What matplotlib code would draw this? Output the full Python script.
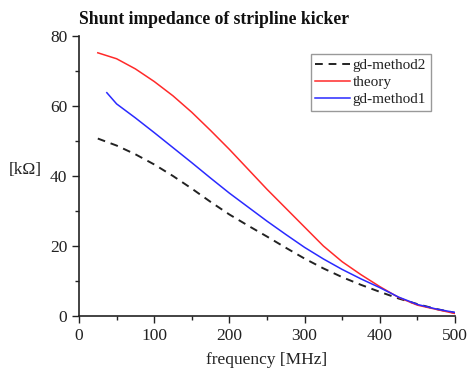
import matplotlib
matplotlib.use("Agg")
import matplotlib.pyplot as plt
from matplotlib.ticker import MultipleLocator

freq = [25, 50, 75, 100, 125, 150, 175, 200, 225, 250, 275, 300,
        325, 350, 375, 400, 425, 450, 475, 500]
theory = [75.2, 73.5, 70.6, 67.0, 62.9, 58.2, 53.0, 47.6, 41.9, 36.2, 30.8,
          25.4, 20.0, 15.5, 11.8, 8.4, 5.3, 3.1, 1.9, 0.7]
gd2 = [50.7, 48.7, 46.2, 43.3, 40.0, 36.4, 32.6, 29.0, 25.8, 22.7, 19.5,
       16.4, 13.6, 11.1, 8.9, 6.9, 5.0, 3.4, 2.0, 0.9]
freq_gd1 = [37, 50, 75, 100, 125, 150, 175, 200, 225, 250, 275, 300,
            325, 350, 375, 400, 425, 450, 475, 500]
gd1 = [63.8, 60.6, 56.6, 52.4, 48.1, 43.8, 39.4, 35.1, 31.1, 27.1, 23.3,
       19.6, 16.3, 13.3, 10.6, 8.1, 5.4, 3.3, 2.0, 1.0]

plt.rcParams['font.family'] = ['Liberation Serif', 'DejaVu Serif']
txt = '#222222'

fig = plt.figure(figsize=(4.67, 3.73), dpi=100)
ax = fig.add_axes([79/467, 1 - 316/373, 376/467, 280/373])

ax.plot(freq, gd2, color='#222222', lw=1.4, ls=(0, (4, 3)), label='gd-method2')
ax.plot(freq, theory, color='#ff2a2a', lw=1.1, label='theory')
ax.plot(freq_gd1, gd1, color='#2a2aff', lw=1.1, label='gd-method1')

ax.set_xlim(0, 500)
ax.set_ylim(0, 80)
ax.xaxis.set_major_locator(MultipleLocator(100))
ax.xaxis.set_minor_locator(MultipleLocator(50))
ax.yaxis.set_major_locator(MultipleLocator(20))
ax.yaxis.set_minor_locator(MultipleLocator(10))
ax.tick_params(which='major', direction='out', length=5, width=1, labelsize=12.5, colors=txt)
ax.tick_params(which='minor', direction='out', length=3, width=1, colors=txt)
for s in ['top', 'right']:
    ax.spines[s].set_visible(False)
for s in ['left', 'bottom']:
    ax.spines[s].set_color(txt)
    ax.spines[s].set_linewidth(1.2)

ax.set_xlabel('frequency [MHz]', fontsize=12.5, color=txt, labelpad=6)
ax.set_ylabel('[kΩ]', fontsize=12.5, color=txt, rotation=0, va='center', ha='center')
ax.yaxis.set_label_coords(-0.143, 0.52)
ax.set_title('Shunt impedance of stripline kicker', fontsize=12.7, fontweight='bold',
             loc='left', x=0.0, pad=9, color='#111111')

leg = ax.legend(loc='upper right', bbox_to_anchor=(0.935, 0.935), fontsize=11,
                fancybox=False, edgecolor='#999999', framealpha=1,
                handlelength=2.3, handletextpad=0.15, borderpad=0.3,
                labelspacing=0.2, borderaxespad=0)
leg.get_frame().set_linewidth(1.0)
for t in leg.get_texts():
    t.set_color(txt)

fig.savefig('out.png', dpi=100)
